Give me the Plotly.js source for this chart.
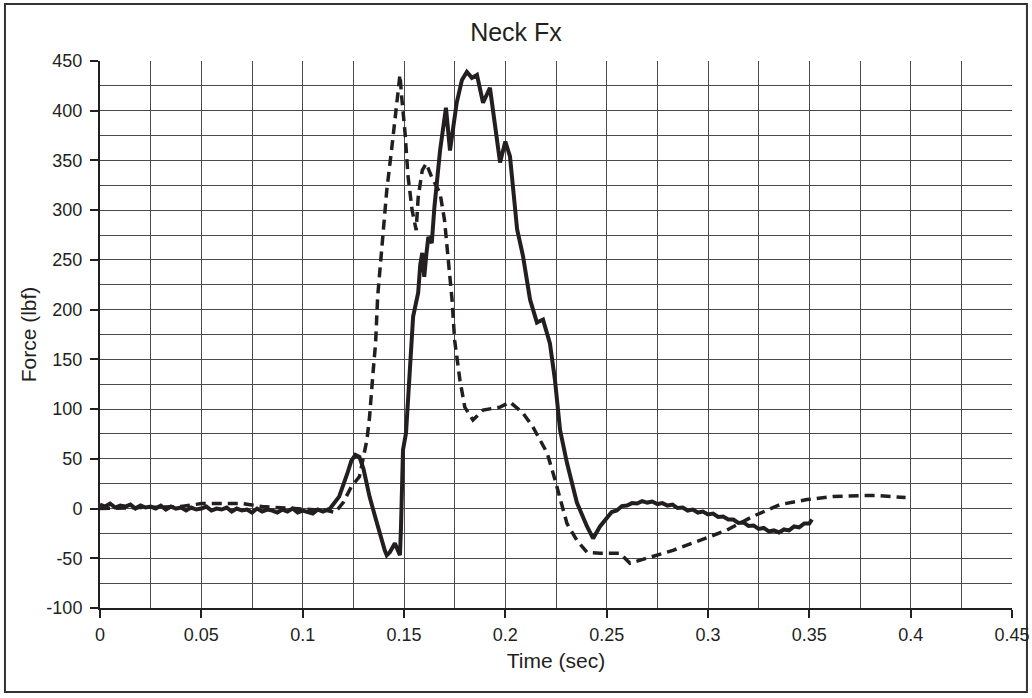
<!DOCTYPE html>
<html>
<head>
<meta charset="utf-8">
<script src="https://cdn.plot.ly/plotly-3.0.1.min.js"></script>
<style>
html,body{margin:0;padding:0;background:#fff;}
#chart{width:1032px;height:698px;}
</style>
</head>
<body>
<div id="chart"></div>
<script>
// Solid series (test 1)
const solidTime = [
  0,0.0025,0.005,0.0075,0.01,0.0125,0.015,0.0175,0.02,0.0225,0.025,0.0275,0.03,0.0325,0.035,0.0375,
  0.04,0.0425,0.045,0.0475,0.05,0.0525,0.055,0.0575,0.06,0.0625,0.065,0.0675,0.07,0.0725,0.075,0.0775,
  0.08,0.0825,0.085,0.0875,0.09,0.0925,0.095,0.0975,0.1,0.1025,0.105,0.1075,0.11,
  0.1135,0.118,0.122,0.124,0.126,0.128,0.13,0.133,0.136,0.138,0.1405,0.1415,0.143,0.1455,0.147,0.148,
  0.1485,0.1495,0.151,0.153,0.1545,0.157,0.158,0.159,0.16,0.161,0.162,0.1637,0.165,0.1678,0.1707,
  0.1727,0.175,0.176,0.1786,0.181,0.1835,0.186,0.189,0.1924,0.195,0.1974,0.2,0.2023,0.2058,0.2087,
  0.2122,0.2156,0.2186,0.222,0.2245,0.227,0.2304,0.2353,0.2403,0.2433,0.2467,
  0.2525,0.255,0.2575,0.26,0.2625,0.265,0.2675,0.27,0.2725,0.275,0.2775,0.28,0.2825,0.285,0.2875,
  0.29,0.2925,0.295,0.2975,0.3,0.3025,0.305,0.3075,0.31,0.3125,0.315,0.3175,0.32,0.3225,0.325,
  0.3275,0.33,0.3325,0.335,0.3375,0.34,0.3425,0.345,0.3475,0.35,0.3513
];
const solidForce = [
  4,2,5,1,3,2,4,0,3,1,2,0,3,-1,2,0,
  1,-2,1,-1,0,2,-2,0,-1,1,-3,0,-2,-1,-4,0,
  -3,-1,-2,-4,-1,-3,0,-4,-2,-3,-5,-1,-3,
  0,12,35,48,54,52,40,12,-10,-25,-42,-47,-44,-35,-42,-47,
  -20,59,76,136,193,217,245,257,233,255,273,267,303,360,403,
  360,398,408,431,439,433,436,408,423,384,348,369,354,281,254,
  210,187,190,166,129,79,46,6,-18,-30,-18,
  -3.5,-2,2.5,3,5.5,5,7.5,6,7,4.5,5.5,3,4,0.5,1,
  -2,-1,-4,-3,-6,-5,-8.5,-8,-11,-11,-14.5,-14,-17.5,-17,-20.5,
  -19.5,-23,-22,-24,-21,-22,-18,-19,-15,-15,-11
];

// Dashed series (test 2)
const dashTime = [
  0,0.02,0.04,0.05,0.07,0.08,0.1,0.112,0.116,0.12,0.124,0.128,0.1317,0.133,0.1347,0.136,0.137,
  0.1396,0.1415,0.144,0.146,0.148,0.149,0.1505,0.152,0.154,0.156,0.157,0.159,0.161,0.1637,0.1678,
  0.17,0.1717,0.1737,0.175,0.1776,0.18,0.184,0.189,0.1974,0.2023,0.2087,0.2136,0.217,0.2206,0.2245,
  0.2304,0.2353,0.2403,0.2467,0.2566,0.2615,0.265,0.2729,0.2827,0.296,0.309,0.322,0.3355,0.3488,
  0.3617,0.375,0.385,0.3975
];
const dashForce = [
  0,1,2,5,5,2,0,-2,-4,6,22,32,69,92,136,167,213,
  273,320,363,401,436,411,378,334,300,280,313,340,347,333,317,
  290,253,210,169,129,102,89,99,102,107,96,82,69,56,29,
  -15,-32,-44,-45,-45,-55,-53,-48,-42,-32,-22,-8,4,9,
  12,13,13,11
];

const xTickVals = [0,0.05,0.1,0.15,0.2,0.25,0.3,0.35,0.4,0.45];
const xTickText = ["0","0.05","0.1","0.15","0.2","0.25","0.3","0.35","0.4","0.45"];
const yTickVals = [-100,-50,0,50,100,150,200,250,300,350,400,450];
const yTickText = ["-100","-50","0","50","100","150","200","250","300","350","400","450"];

const ink = '#231f20';
const gridCol = '#4a4a4a';
const font = 'Liberation Sans, Arial, sans-serif';

const traces = [
  {x: solidTime, y: solidForce, mode: 'lines', line: {color: ink, width: 4}, showlegend: false},
  {x: dashTime, y: dashForce, mode: 'lines', line: {color: ink, width: 3.5, dash: '10px,6px'}, showlegend: false}
];

const layout = {
  width: 1032, height: 698,
  margin: {l: 100, r: 20, t: 61, b: 90},
  paper_bgcolor: '#fff', plot_bgcolor: '#fff',
  font: {family: font, color: '#231f20', size: 18},
  title: {text: 'Neck Fx', font: {size: 25, family: font, color: '#231f20'}, x: 0.5, xanchor: 'center', y: 0.954, yanchor: 'middle'},
  xaxis: {
    range: [0, 0.45], tickvals: xTickVals, ticktext: xTickText,
    showgrid: true, gridcolor: gridCol, gridwidth: 1,
    minor: {dtick: 0.025, tick0: 0, showgrid: true, gridcolor: gridCol, gridwidth: 1, ticks: ''},
    ticks: 'outside', ticklen: 8, tickwidth: 2, tickcolor: ink, ticklabelstandoff: 1,
    showline: true, linecolor: ink, linewidth: 2, zeroline: false,
    tickfont: {size: 18, family: font},
    title: {text: 'Time (sec)', font: {size: 21, family: font}, standoff: 10}
  },
  yaxis: {
    range: [-100, 450], tickvals: yTickVals, ticktext: yTickText,
    showgrid: true, gridcolor: gridCol, gridwidth: 1,
    minor: {dtick: 25, tick0: 0, showgrid: true, gridcolor: gridCol, gridwidth: 1, ticks: ''},
    ticks: 'outside', ticklen: 8, tickwidth: 2, tickcolor: ink, ticklabelstandoff: 4,
    showline: true, linecolor: ink, linewidth: 2, zeroline: false,
    tickfont: {size: 18, family: font},
    title: {text: 'Force (lbf)', font: {size: 21, family: font}, standoff: 4}
  },
  shapes: [
    {type: 'rect', xref: 'paper', yref: 'paper', x0: -0.1042, x1: 1.0164, y0: -0.1536, y1: 1.1042,
     line: {color: '#333', width: 2}, fillcolor: 'rgba(0,0,0,0)', layer: 'below'}
  ]
};

Plotly.newPlot('chart', traces, layout, {displayModeBar: false, staticPlot: true});
</script>
</body>
</html>
